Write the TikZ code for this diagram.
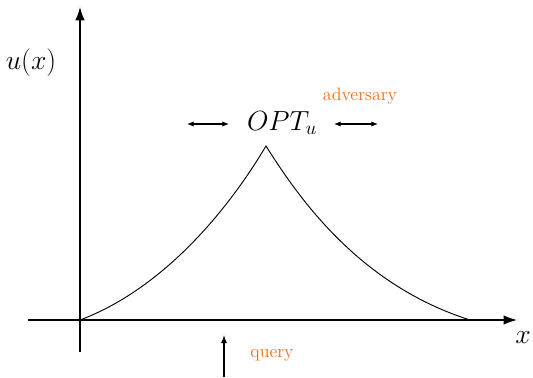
\documentclass[tikz,border=0pt]{standalone}
\usepackage{amsmath}
\usepackage{xcolor}
\usetikzlibrary{arrows.meta}
\definecolor{advOrange}{RGB}{250,105,20}
\begin{document}
\begin{tikzpicture}[x=0.75pt,y=-0.75pt,
  axis/.style={-{Latex[length=10pt,width=7pt]},line width=0.9pt},
  mathlbl/.style={inner sep=0pt,font=\fontsize{22}{26}\selectfont},
  orangelbl/.style={inner sep=0pt,text=advOrange,font=\fontsize{13.5}{16}\selectfont},
  moveArrow/.style={{Latex[length=5pt,width=4pt]}-{Latex[length=5pt,width=4pt]},line width=0.8pt}]
\useasboundingbox (0,0) rectangle (533,378);
% axes
\coordinate (yBot) at (80,352);
\coordinate (yTop) at (80,7);
\coordinate (xLeft) at (28,320);
\coordinate (xRight) at (517,320);
\draw[axis] (yBot) -- (yTop);
\draw[axis] (xLeft) -- (xRight);
\node[mathlbl] (uLabel) at (31,63) {$u(x)$};
\node[mathlbl] (xLabel) at (523,338) {$x$};
% utility curve
\coordinate (origin) at (80,320);
\coordinate (peak) at (266,146);
\coordinate (rightEnd) at (470,320);
\draw[line width=0.7pt] (origin) .. controls (160,290) and (225,215) .. (peak)
  .. controls (300,200) and (360,285) .. (rightEnd);
% optimum and adversary moves
\node[mathlbl] (opt) at (282,123) {$OPT_u$};
\coordinate (lA) at (187,124);
\coordinate (lB) at (229,124);
\coordinate (rA) at (334,124);
\coordinate (rB) at (378,124);
\draw[moveArrow] (lA) -- (lB);
\draw[moveArrow] (rA) -- (rB);
\node[orangelbl] (adv) at (360,96) {adversary};
% query
\coordinate (qBot) at (224,377);
\coordinate (qTop) at (224,335);
\draw[-{Latex[length=6pt,width=4.5pt]},line width=0.8pt] (qBot) -- (qTop);
\node[orangelbl] (query) at (272,355) {query};
\end{tikzpicture}
\end{document}
